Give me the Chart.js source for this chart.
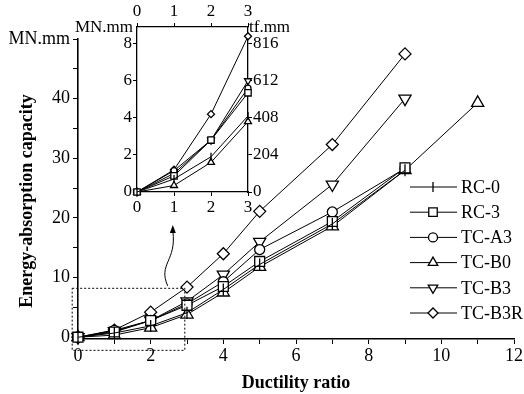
<!DOCTYPE html>
<html>
<head>
<meta charset="utf-8">
<script src="https://cdn.jsdelivr.net/npm/chart.js@4"></script>
<style>
    html, body { margin: 0; padding: 0; background: #fff; }
    #wrap { position: relative; width: 524px; height: 394px; }
    #mainChart { position: absolute; left: 0; top: 0; }
    #insetChart { position: absolute; left: 60px; top: 0; }
</style>
</head>
<body>
<div id="wrap">
    <canvas id="mainChart" width="524" height="394"></canvas>
    <canvas id="insetChart" width="230" height="222"></canvas>
</div>
<script>
// Ductility ratio steps
const ductility = [0, 1, 2, 3, 4, 5, 7, 9];
const ductilityB0 = [0, 1, 2, 3, 4, 5, 7, 9, 11];

// Energy-absorption capacity (MN.mm)
const rc0 = [0, 0.7, 1.9, 4.1, 8.0, 12.2, 19.0, 28.0];
const rc3 = [0, 0.87, 2.8, 5.35, 8.5, 12.7, 19.4, 28.4];
const tcA3 = [0, 1.15, 2.8, 5.6, 9.3, 14.7, 21.0, 28.3];
const tcB0 = [0, 0.35, 1.6, 3.8, 7.5, 11.8, 18.6, 28.0, 39.3];
const tcB3 = [0, 1.0, 2.8, 6.0, 10.5, 16.0, 25.6, 40.0];
const tcB3R = [0, 1.2, 4.2, 8.4, 14.0, 21.1, 32.3, 47.5];

// Tick values
const xTicksMain = [0, 1, 2, 3, 4, 5, 6, 7, 8, 9, 10, 11, 12];
const yTicksMain = [0, 5, 10, 15, 20, 25, 30, 35, 40, 45, 50];
const xTicksInset = [0, 1, 2, 3];
const yTicksInset = [0, 2, 4, 6, 8];
const yTicksInsetTf = [0, 204, 408, 612, 816];

const FONT = '"Liberation Serif", "Times New Roman", serif';

// r: marker radius in main plot, rl: legend, ri: inset
const series = [
    { label: 'RC-0', x: ductility, y: rc0, style: 'line', rotation: 90, r: 6, rl: 5, ri: 4 },
    { label: 'RC-3', x: ductility, y: rc3, style: 'rect', rotation: 0, r: 7, rl: 6, ri: 4.5 },
    { label: 'TC-A3', x: ductility, y: tcA3, style: 'circle', rotation: 0, r: 5, rl: 4.5, ri: 3 },
    { label: 'TC-B0', x: ductilityB0, y: tcB0, style: 'triangle', rotation: 0, r: 7, rl: 5.5, ri: 4 },
    { label: 'TC-B3', x: ductility, y: tcB3, style: 'triangle', rotation: 180, r: 7, rl: 5.5, ri: 4 },
    { label: 'TC-B3R', x: ductility, y: tcB3R, style: 'rectRot', rotation: 0, r: 6, rl: 5, ri: 3.5 }
];

function makeDataset(s, maxX, radius) {
    const pts = [];
    s.x.forEach((xv, i) => {
        if (xv <= maxX) pts.push({ x: xv, y: s.y[i] });
    });
    return {
        label: s.label,
        data: pts,
        borderColor: '#000',
        borderWidth: 1,
        pointStyle: s.style,
        rotation: s.rotation,
        pointRadius: radius(s),
        pointBackgroundColor: '#fff',
        pointBorderColor: '#000',
        pointBorderWidth: 1.3,
        tension: 0,
        clip: false
    };
}

// y title, legend, zoom box and arrow for the main chart
const mainDecor = {
    id: 'mainDecor',
    afterDraw(chart) {
        const ctx = chart.ctx;
        const xs = chart.scales.x, ys = chart.scales.y;
        ctx.save();

        // y axis title
        ctx.save();
        ctx.translate(27, 201);
        ctx.rotate(-Math.PI / 2);
        ctx.font = 'bold 18px ' + FONT;
        ctx.fillStyle = '#000';
        ctx.textAlign = 'center';
        ctx.textBaseline = 'middle';
        ctx.fillText('Energy-absorption capacity', 0, 0);
        ctx.restore();

        // dotted zoom box
        ctx.strokeStyle = '#000';
        ctx.lineWidth = 1;
        ctx.setLineDash([2, 2]);
        const bx0 = xs.getPixelForValue(-0.16), bx1 = xs.getPixelForValue(2.94);
        const by0 = ys.getPixelForValue(8.2), by1 = ys.getPixelForValue(-2.2);
        ctx.strokeRect(bx0, by0, bx1 - bx0, by1 - by0);
        ctx.setLineDash([]);

        // curved arrow up to the inset
        const ax0 = xs.getPixelForValue(2.47), ay0 = ys.getPixelForValue(8.6);
        const ax1 = xs.getPixelForValue(2.61), ay1 = ys.getPixelForValue(17.8);
        ctx.beginPath();
        ctx.moveTo(ax0, ay0);
        ctx.bezierCurveTo(ax0 - 10, ay0 - 22, ax1 + 4, ay1 + 30, ax1, ay1);
        ctx.stroke();
        ctx.beginPath();
        ctx.moveTo(ax1, ay1 - 6);
        ctx.lineTo(ax1 - 3, ay1 + 2);
        ctx.lineTo(ax1 + 3, ay1 + 2);
        ctx.closePath();
        ctx.fillStyle = '#000';
        ctx.fill();

        // legend
        ctx.font = '18px ' + FONT;
        ctx.textBaseline = 'middle';
        series.forEach((s, i) => {
            const y = 187 + i * 25.2;
            ctx.strokeStyle = '#000';
            ctx.lineWidth = 1;
            ctx.beginPath();
            ctx.moveTo(410, y);
            ctx.lineTo(457, y);
            ctx.stroke();
            ctx.fillStyle = '#fff';
            ctx.lineWidth = 1.3;
            Chart.helpers.drawPoint(ctx, {
                pointStyle: s.style,
                rotation: s.rotation,
                radius: s.rl,
                borderWidth: 1.3
            }, 433, y);
            ctx.fillStyle = '#000';
            ctx.fillText(s.label, 461, y + 1);
        });
        ctx.restore();
    }
};

new Chart(document.getElementById('mainChart'), {
    type: 'line',
    data: { datasets: series.map(s => makeDataset(s, 99, d => d.r)) },
    options: {
        responsive: false,
        animation: false,
        events: [],
        layout: { padding: { top: 39, left: 0, right: 10, bottom: 0 } },
        plugins: { legend: { display: false }, tooltip: { enabled: false } },
        scales: {
            x: {
                type: 'linear',
                min: 0,
                max: 12,
                afterBuildTicks: s => { s.ticks = xTicksMain.map(v => ({ value: v })); },
                afterFit: s => { s.height = 55; },
                ticks: {
                    autoSkip: false,
                    maxRotation: 0,
                    padding: 1,
                    color: '#000',
                    font: { family: FONT, size: 18 },
                    callback: v => (v % 2 === 0 ? String(v) : '')
                },
                grid: { drawOnChartArea: false, tickLength: 5, color: '#000' },
                border: { color: '#000', width: 1.6 },
                title: {
                    display: true,
                    text: 'Ductility ratio',
                    color: '#000',
                    font: { family: FONT, size: 18, weight: 'bold' },
                    padding: { top: 0, bottom: 0 }
                }
            },
            y: {
                type: 'linear',
                min: -0.3,
                max: 50,
                afterBuildTicks: s => { s.ticks = yTicksMain.map(v => ({ value: v })); },
                afterFit: s => { s.width = 78; },
                ticks: {
                    autoSkip: false,
                    padding: 3,
                    color: '#000',
                    font: { family: FONT, size: 18 },
                    callback: v => (v === 50 ? 'MN.mm' : (v % 10 === 0 ? String(v) : ''))
                },
                grid: { drawOnChartArea: false, tickLength: 5, color: '#000' },
                border: { color: '#000', width: 1.6 }
            }
        }
    },
    plugins: [mainDecor]
});

// unit labels for the inset
const insetDecor = {
    id: 'insetDecor',
    afterDraw(chart) {
        const ctx = chart.ctx;
        ctx.save();
        ctx.fillStyle = '#000';
        ctx.font = '17px ' + FONT;
        ctx.textBaseline = 'middle';
        ctx.textAlign = 'right';
        ctx.fillText('MN.mm', chart.chartArea.left - 4, chart.chartArea.top + 1);
        ctx.textAlign = 'left';
        ctx.fillText('tf.mm', chart.chartArea.right + 1, chart.chartArea.top + 1);
        ctx.restore();
    }
};

const insetTick = { color: '#000', font: { family: FONT, size: 17 }, autoSkip: false, maxRotation: 0, padding: 1 };
const insetGrid = { drawOnChartArea: false, tickLength: 4, color: '#000' };
const insetBorder = { color: '#000', width: 1.3 };

new Chart(document.getElementById('insetChart'), {
    type: 'line',
    data: { datasets: series.map(s => makeDataset(s, 3, d => d.ri)) },
    options: {
        responsive: false,
        animation: false,
        events: [],
        layout: { padding: 0 },
        plugins: { legend: { display: false }, tooltip: { enabled: false } },
        scales: {
            x: {
                type: 'linear', position: 'bottom', min: 0, max: 3,
                afterBuildTicks: s => { s.ticks = xTicksInset.map(v => ({ value: v })); },
                afterFit: s => { s.height = 30; },
                ticks: insetTick, grid: insetGrid, border: insetBorder
            },
            xTop: {
                type: 'linear', position: 'top', min: 0, max: 3,
                afterBuildTicks: s => { s.ticks = xTicksInset.map(v => ({ value: v })); },
                afterFit: s => { s.height = 27; },
                ticks: insetTick, grid: insetGrid, border: insetBorder
            },
            y: {
                type: 'linear', position: 'left', min: 0, max: 8.9,
                afterBuildTicks: s => { s.ticks = yTicksInset.map(v => ({ value: v })); },
                afterFit: s => { s.width = 77; },
                ticks: insetTick, grid: insetGrid, border: insetBorder
            },
            yTf: {
                type: 'linear', position: 'right', min: 0, max: 8.9 * 102,
                afterBuildTicks: s => { s.ticks = yTicksInsetTf.map(v => ({ value: v })); },
                afterFit: s => { s.width = 42; },
                ticks: insetTick, grid: insetGrid, border: insetBorder
            }
        }
    },
    plugins: [insetDecor]
});
</script>
</body>
</html>
